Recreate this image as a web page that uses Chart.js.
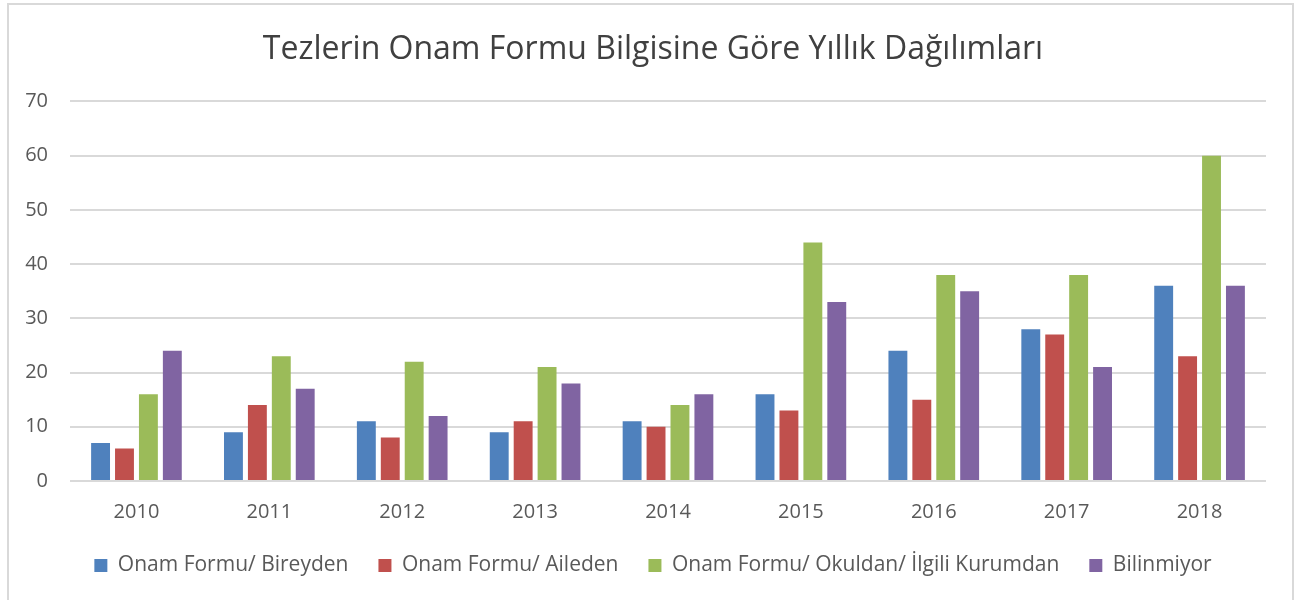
<!DOCTYPE html>
<html>
<head>
<meta charset="utf-8">
<script src="https://cdn.jsdelivr.net/npm/chart.js@4"></script>
<style>
  html, body { margin: 0; padding: 0; background: #fff; }
  #frame {
    position: absolute; left: 7px; top: 3px; width: 1287px; height: 610px;
    border: 2px solid #d9d9d9; box-sizing: border-box;
  }
  #chart { position: absolute; left: 0; top: 0; }
</style>
</head>
<body>
<div id="frame"></div>
<canvas id="chart" width="1306" height="600"></canvas>
<script>
// yearly counts per consent-form source
const years = ["2010", "2011", "2012", "2013", "2014", "2015", "2016", "2017", "2018"];
const bireyden = [7, 9, 11, 9, 11, 16, 24, 28, 36];
const aileden = [6, 14, 8, 11, 10, 13, 15, 27, 23];
const okuldan = [16, 23, 22, 21, 14, 44, 38, 38, 60];
const bilinmiyor = [24, 17, 12, 18, 16, 33, 35, 21, 36];
const yTicks = [0, 10, 20, 30, 40, 50, 60, 70];

const fontFamily = "'Open Sans', 'Liberation Sans', sans-serif";
const textColor = "#595959";

function series(label, data, color) {
  return {
    label: label,
    data: data,
    backgroundColor: color,
    borderWidth: 0,
    categoryPercentage: 0.72,
    barPercentage: 0.79,
  };
}

const ctx = document.getElementById("chart").getContext("2d");
new Chart(ctx, {
  type: "bar",
  data: {
    labels: years,
    datasets: [
      series("Onam Formu/ Bireyden", bireyden, "#4f81bd"),
      series("Onam Formu/ Aileden", aileden, "#c0504d"),
      series("Onam Formu/ Okuldan/ İlgili Kurumdan", okuldan, "#9bbb59"),
      series("Bilinmiyor", bilinmiyor, "#8064a2"),
    ],
  },
  options: {
    responsive: false,
    animation: false,
    layout: { padding: { left: 20, right: 20, top: 31, bottom: 14 } },
    plugins: {
      title: {
        display: true,
        text: "Tezlerin Onam Formu Bilgisine Göre Yıllık Dağılımları",
        color: "#404040",
        font: { family: fontFamily, size: 32, weight: "normal" },
        padding: { top: 0, bottom: 32 },
      },
      legend: {
        position: "bottom",
        labels: {
          color: textColor,
          font: { family: fontFamily, size: 21 },
          boxWidth: 13,
          boxHeight: 13,
          padding: 30,
        },
      },
      tooltip: { enabled: false },
    },
    scales: {
      x: {
        afterFit: (axis) => { axis.height = 44; },
        grid: { display: false },
        border: { display: false },
        ticks: { color: textColor, font: { family: fontFamily, size: 20 }, padding: 11 },
      },
      y: {
        min: 0,
        max: 70,
        afterFit: (axis) => { axis.width = 50; },
        afterBuildTicks: (axis) => { axis.ticks = yTicks.map((v) => ({ value: v })); },
        grid: { color: "#d9d9d9", lineWidth: 2, drawTicks: false },
        border: { display: false },
        ticks: { color: textColor, font: { family: fontFamily, size: 20 }, padding: 22 },
      },
      // empty right axis, only keeps a margin beside the plot
      yRight: {
        position: "right",
        min: 0,
        max: 70,
        afterFit: (axis) => { axis.width = 20; },
        grid: { display: false },
        border: { display: false },
        ticks: { display: false },
      },
    },
  },
});
</script>
</body>
</html>
